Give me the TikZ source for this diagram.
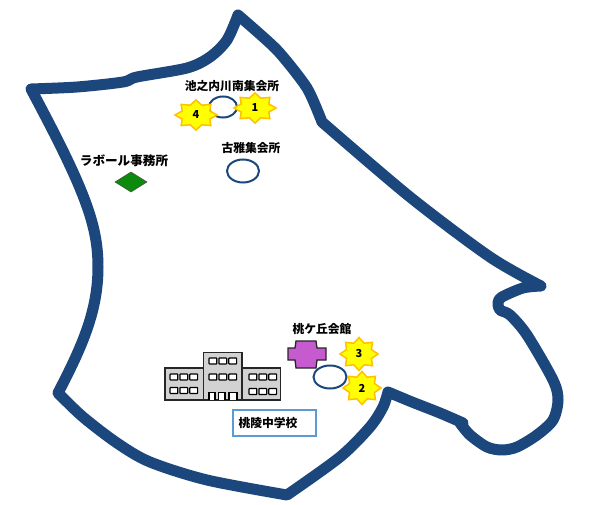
\documentclass[tikz,border=0pt]{standalone}
\usepackage{fontspec}
\usetikzlibrary{shapes.geometric}
\setmainfont{Noto Sans CJK JP}
\definecolor{navy}{HTML}{1C477C}
\definecolor{burstfill}{HTML}{FFFF00}
\definecolor{burstedge}{HTML}{FFC000}
\definecolor{boxblue}{HTML}{5B9BD5}
\definecolor{bldg}{HTML}{D2D2D2}
\definecolor{plum}{HTML}{C65BCF}
\definecolor{dgreen}{HTML}{0B8A0B}
\tikzset{
  boundary/.style={draw=navy,line width=11pt,line join=round,line cap=round},
  hall/.style={draw=navy,line width=2pt,fill=white,ellipse,inner sep=0pt},
  lbl/.style={font=\fontsize{11.8}{13}\selectfont\bfseries,inner sep=0pt,text=black},
  numlbl/.style={font=\fontsize{11}{12}\selectfont\bfseries,inner sep=0pt,text=black},
  burstline/.style={draw=burstedge,fill=burstfill,line width=1.5pt,line join=miter},
  win/.style={draw=black,line width=1.2pt,fill=white,rounded corners=0.6pt},
  block/.style={draw=black!85,line width=1.3pt,fill=bldg},
}
\newcommand{\burst}[6]{%
  \draw[burstline] plot[variable=\k,samples at={0,...,15}]
    ({#2+#4*(1-0.29*mod(\k,2))*cos(22.5*\k)},{#3+#5*(1-0.29*mod(\k,2))*sin(22.5*\k)}) -- cycle;
  \node[numlbl] (#1) at (#2,#3) {#6};
}
\newcommand{\winrow}[3]{% x, y, count
  \foreach \n in {1,...,#3}{
    \draw[win] ({#1+(\n-1)*9.9},#2) rectangle ++(7.8,6);
  }
}
\begin{document}
\begin{tikzpicture}[x=1pt,y=-1pt]
\useasboundingbox (0,0) rectangle (600,505);
\fill[white] (0,0) rectangle (600,505);
% boundary
\draw[boundary]
  plot[smooth,tension=0.5] coordinates {(31,89) (77,87) (123,82) (137,77) (187,68) (210,57) (227,40) (238,15)}
  -- plot[smooth,tension=0.4] coordinates {(238,15) (277,50) (307,88) (322,122)}
  -- plot[smooth,tension=0.5] coordinates {(322,122) (410,197) (490,257) (541,286)}
  -- plot[smooth,tension=0.5] coordinates {(541,286) (523,288) (502,297) (498,303) (500,310) (510,315) (527,335) (553,380) (558,400) (553,420) (537,435) (517,447) (502,450) (487,447) (470,435) (460,423)}
  -- plot[smooth,tension=0.5] coordinates {(463,423) (440,413) (412,402) (388,392)}
  -- plot[smooth,tension=0.5] coordinates {(388,392) (383,407) (370,427) (340,457) (287,495)}
  -- plot[smooth,tension=0.5] coordinates {(287,495) (207,480) (150,462) (117,443) (83,417) (58,393)}
  .. controls (83,345) and (98,310) .. (98,267)
  .. controls (98,225) and (85,190) .. (31,89);
% halls
\node[hall,minimum width=28pt,minimum height=21pt] (ikenouchi) at (223,107) {};
\node[hall,minimum width=32pt,minimum height=23pt] (koga) at (243,171) {};
\node[hall,minimum width=33pt,minimum height=23pt] (momo) at (330,377) {};
% bursts
\burst{b1}{255}{108}{21}{15}{1}
\burst{b4}{196}{115}{21}{15}{4}
\burst{b3}{359}{354}{19}{16.5}{3}
\burst{b2}{362}{388}{19}{16.5}{2}
% labels
\node[lbl] (l1) at (232,86) {池之内川南集会所};
\node[lbl] (l2) at (251,148) {古雅集会所};
\node[lbl,font=\fontsize{12.6}{13}\selectfont\bfseries] (l3) at (124,161) {ラボール事務所};
\node[lbl] (l4) at (322,329) {桃ケ丘会館};
% diamond
\draw[black!70,line width=0.5pt,fill=dgreen] (131,172) -- (147,182) -- (131,192) -- (115,182) -- cycle;
% cross
\draw[black!85,line width=1.3pt,fill=plum]
  (296,341) -- (316,341) -- (317,348) -- (326,348) -- (326,360) -- (317,360) -- (316,368) -- (296,368) -- (295,360) -- (288,360) -- (288,348) -- (295,348) -- cycle;
% school
\draw[block] (165,368) rectangle (203.5,400);
\draw[block] (242,368) rectangle (280.5,400);
\draw[block] (203.5,352.5) rectangle (242,400);
\winrow{170}{374}{3}
\winrow{170}{387.5}{3}
\winrow{209}{358}{3}
\winrow{209}{374}{3}
\winrow{249}{374}{3}
\winrow{249}{388.5}{3}
\draw[black,line width=1.2pt,fill=white] (209,400) -- (209,392.5) -- (215,392.5) -- (215,400);
\draw[black,line width=1.2pt,fill=white] (218.5,400) -- (218.5,392.5) -- (225,392.5) -- (225,400);
\draw[black,line width=1.2pt,fill=white] (229,400) -- (229,392.5) -- (237,392.5) -- (237,400);
% box
\node[draw=boxblue,line width=2pt,fill=white,minimum width=83pt,minimum height=26pt,inner sep=0pt] (schoolbox) at (274,422.5) {};
\node[lbl] (l5) at (268,423) {桃陵中学校};
\end{tikzpicture}
\end{document}
